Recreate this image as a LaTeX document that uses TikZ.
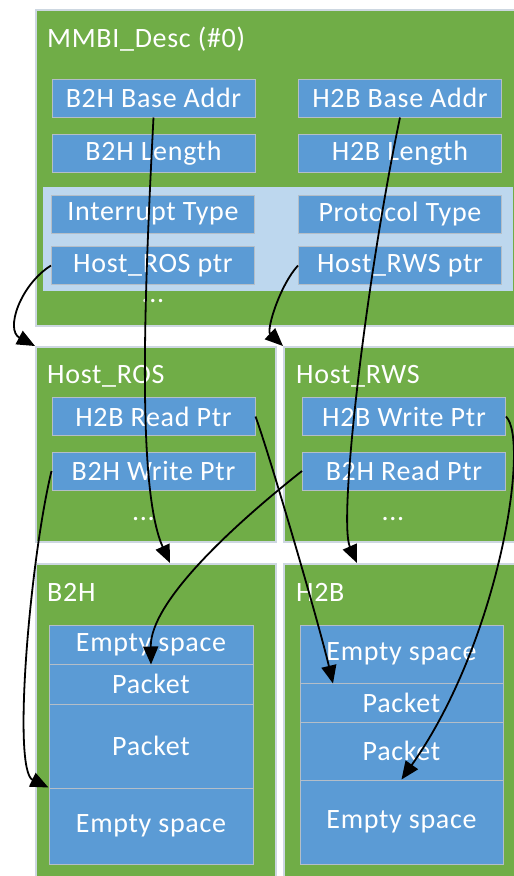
\documentclass[tikz,border=0pt]{standalone}
\usepackage{fontspec}
\setmainfont[LetterSpace=2.5]{Carlito}
\usepackage{xcolor}
\usepackage{tikz}
\usetikzlibrary{arrows.meta}

\definecolor{panelgreen}{RGB}{112,173,71}
\definecolor{fieldblue}{RGB}{91,155,213}
\definecolor{bandblue}{RGB}{189,215,238}
\definecolor{fieldedge}{RGB}{180,190,200}
\definecolor{paneledge}{RGB}{205,215,225}

\begin{document}
\begin{tikzpicture}[
  x=1pt, y=-1pt,
  font=\fontsize{28}{32}\selectfont,
  panel/.style={rectangle, draw=paneledge, line width=1.5pt, fill=panelgreen, anchor=north west, inner sep=0pt},
  band/.style={rectangle, fill=bandblue, anchor=north west, inner sep=0pt},
  field/.style={rectangle, draw=fieldedge, line width=1pt, fill=fieldblue, text=white, minimum width=203pt, minimum height=38pt, inner sep=0pt},
  cell/.style={field, minimum width=204pt},
  title/.style={anchor=base west, text=white, inner sep=0pt},
  dots/.style={text=white, inner sep=0pt},
  link/.style={-{Triangle[length=18pt,width=15pt]}, line width=1.8pt}
]
\useasboundingbox (0,0) rectangle (514,876);
% panels
\node[panel, minimum width=489pt, minimum height=316pt] (desc) at (35,9) {};
\node[band, minimum width=470pt, minimum height=104pt] (band) at (43,187) {};
\node[panel, minimum width=240pt, minimum height=195pt] (ros) at (35,346) {};
\node[panel, minimum width=241pt, minimum height=195pt] (rws) at (283,346) {};
\node[panel, minimum width=240pt, minimum height=330pt] (b2h) at (35,563) {};
\node[panel, minimum width=241pt, minimum height=330pt] (h2b) at (283,563) {};
\node[title] (desct) at (47,47) {MMBI\_Desc (\#0)};
\node[title] (rost)  at (47,383) {Host\_ROS};
\node[title] (rwst)  at (296,383) {Host\_RWS};
\node[title] (b2ht)  at (47,601) {B2H};
\node[title] (h2bt)  at (296,601) {H2B};
% descriptor fields
\node[field] (b2hbase) at (153.5,98)    {B2H Base Addr};
\node[field] (h2bbase) at (400,98)      {H2B Base Addr};
\node[field] (b2hlen)  at (153.5,153.5) {B2H Length};
\node[field] (h2blen)  at (400,153.5)   {H2B Length};
\node[field] (irq)     at (153,214)     {Interrupt Type};
\node[field] (proto)   at (400,214)     {Protocol Type};
\node[field] (rosptr)  at (153,265.5)   {Host\_ROS ptr};
\node[field] (rwsptr)  at (400,265.5)   {Host\_RWS ptr};
\node[dots] (descdots) at (153,301) {...};
% host pointers
\node[field] (h2bread)  at (153.5,416.5) {H2B Read Ptr};
\node[field] (b2hwrite) at (153.5,471)   {B2H Write Ptr};
\node[field] (h2bwrite) at (404,416.5)   {H2B Write Ptr};
\node[field] (b2hread)  at (404,471)     {B2H Read Ptr};
\node[dots] (rosdots) at (143.5,519) {...};
\node[dots] (rwsdots) at (393,519) {...};
% buffers
\node[cell, minimum height=39pt] (b2hE1) at (151,644.5) {Empty space};
\node[cell, minimum height=40pt] (b2hP1) at (151,684)   {Packet};
\node[cell, minimum height=84pt] (b2hP2) at (151,746)   {Packet};
\node[cell, minimum height=76pt] (b2hE2) at (151,826)   {Empty space};
\node[field, minimum height=58pt] (h2bE1) at (401.5,654)   {Empty space};
\node[field, minimum height=39pt] (h2bP1) at (401.5,702.5) {Packet};
\node[field, minimum height=58pt] (h2bP2) at (401.5,751)   {Packet};
\node[field, minimum height=84pt] (h2bE2) at (401.5,822)   {Empty space};
% links
\draw[link] (b2hbase.south) .. controls (144,300) and (137,490) .. ([xshift=135pt]b2h.north west);
\draw[link] (h2bbase.south) .. controls (366,280) and (338,520) .. ([xshift=74pt]h2b.north west);
\draw[link] (rosptr.west) .. controls (20,285) and (5,330) .. (ros.north west);
\draw[link] (rwsptr.west) .. controls (280,285) and (266,330) .. (rws.north west);
\draw[link] (h2bread.east) .. controls (268,450) and (318,620) .. ([xshift=-68.5pt]h2bE1.south);
\draw[link] (h2bwrite.east) .. controls (530,440) and (500,640) .. (h2bE2.north);
\draw[link] (b2hwrite.west) .. controls (30,560) and (12,770) .. (b2hE2.north west);
\draw[link] (b2hread.west) .. controls (240,520) and (150,600) .. (b2hE1.south);
\end{tikzpicture}
\end{document}
